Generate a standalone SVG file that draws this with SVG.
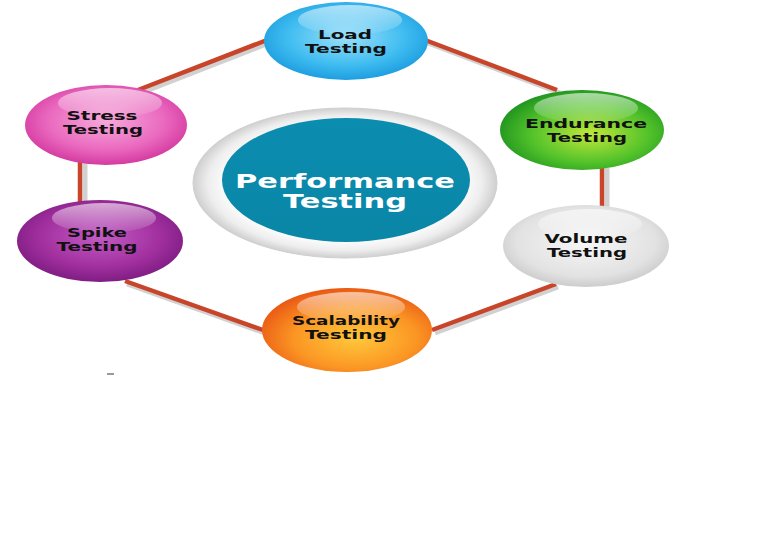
<svg xmlns="http://www.w3.org/2000/svg" width="768" height="550" viewBox="0 0 768 550">
<style>
.lbl{font-family:"DejaVu Sans","Liberation Sans",sans-serif;font-weight:bold;font-size:12px;fill:#111;text-anchor:middle}
.ttl{font-family:"DejaVu Sans","Liberation Sans",sans-serif;font-weight:bold;font-size:19px;fill:#fff;text-anchor:middle}
.conn{stroke:#c8452a;stroke-width:4.5;fill:none}
.shd{stroke:#9a9a9a;stroke-opacity:0.45;stroke-width:5;fill:none}
.hl{fill:url(#hl)}
</style>
<defs>
<linearGradient id="hl" x1="0" y1="0" x2="0" y2="1">
<stop offset="0" stop-color="#fff" stop-opacity="0.6"/>
<stop offset="1" stop-color="#fff" stop-opacity="0.05"/>
</linearGradient>
<radialGradient id="gBlue" cx="0.5" cy="0.45" r="0.6">
<stop offset="0" stop-color="#9be0fb"/><stop offset="0.6" stop-color="#3fbcf0"/><stop offset="1" stop-color="#1496dc"/>
</radialGradient>
<radialGradient id="gGreen" cx="0.55" cy="0.55" r="0.6">
<stop offset="0" stop-color="#c2e83a"/><stop offset="0.6" stop-color="#52c22a"/><stop offset="1" stop-color="#1a8f1e"/>
</radialGradient>
<radialGradient id="gGrey" cx="0.5" cy="0.45" r="0.6">
<stop offset="0" stop-color="#f7f7f7"/><stop offset="0.7" stop-color="#e2e2e2"/><stop offset="1" stop-color="#c4c4c4"/>
</radialGradient>
<radialGradient id="gPink" cx="0.5" cy="0.45" r="0.6">
<stop offset="0" stop-color="#f6a9da"/><stop offset="0.6" stop-color="#ea69bf"/><stop offset="1" stop-color="#cf2e98"/>
</radialGradient>
<radialGradient id="gPurple" cx="0.5" cy="0.45" r="0.6">
<stop offset="0" stop-color="#c25bc4"/><stop offset="0.6" stop-color="#a2309f"/><stop offset="1" stop-color="#76187c"/>
</radialGradient>
<radialGradient id="gOrange" cx="0.55" cy="0.6" r="0.6">
<stop offset="0" stop-color="#ffc83a"/><stop offset="0.6" stop-color="#fb9624"/><stop offset="1" stop-color="#ea5a14"/>
</radialGradient>
<radialGradient id="gRing" cx="0.5" cy="0.5" r="0.5">
<stop offset="0.75" stop-color="#ffffff"/><stop offset="0.9" stop-color="#eeeeee"/><stop offset="1" stop-color="#cfcfcf"/>
</radialGradient>
<linearGradient id="gTeal" x1="0" y1="0" x2="0" y2="1">
<stop offset="0" stop-color="#0b8db0"/><stop offset="1" stop-color="#0a86a6"/>
</linearGradient>
</defs>
<rect width="768" height="550" fill="#fff"/>
<g id="connectors">
<line class="shd" x1="141" y1="93" x2="269" y2="43"/>
<line class="conn" x1="138" y1="90" x2="267" y2="40"/>
<line class="shd" x1="428" y1="43" x2="560" y2="93"/>
<line class="conn" x1="425" y1="40" x2="557" y2="90"/>
<line class="shd" x1="85" y1="163" x2="85" y2="203"/>
<line class="conn" x1="80" y1="162" x2="80" y2="203"/>
<line class="shd" x1="607" y1="168" x2="607" y2="208"/>
<line class="conn" x1="602" y1="167" x2="602" y2="207"/>
<line class="shd" x1="558" y1="287" x2="435" y2="333"/>
<line class="conn" x1="556" y1="284" x2="432" y2="330"/>
<line class="shd" x1="127" y1="284" x2="265" y2="333"/>
<line class="conn" x1="125" y1="281" x2="263" y2="330"/>
</g>
<g id="center">
<ellipse cx="345" cy="183" rx="152" ry="75" fill="url(#gRing)" stroke="#d0d0d0" stroke-width="1"/>
<ellipse cx="346" cy="180" rx="124" ry="62" fill="url(#gTeal)"/>
<text class="ttl" x="345" y="188" textLength="220" lengthAdjust="spacingAndGlyphs">Performance</text>
<text class="ttl" x="345" y="208" textLength="124" lengthAdjust="spacingAndGlyphs">Testing</text>
</g>
<g id="load">
<ellipse cx="346" cy="41" rx="82" ry="39" fill="url(#gBlue)"/>
<ellipse cx="350" cy="20" rx="52" ry="15" class="hl"/>
<text class="lbl" x="345" y="39" textLength="54" lengthAdjust="spacingAndGlyphs">Load</text>
<text class="lbl" x="346" y="53" textLength="82" lengthAdjust="spacingAndGlyphs">Testing</text>
</g>
<g id="endurance">
<ellipse cx="582" cy="130" rx="82" ry="40" fill="url(#gGreen)"/>
<ellipse cx="586" cy="108" rx="52" ry="15" class="hl"/>
<text class="lbl" x="586" y="128" textLength="122" lengthAdjust="spacingAndGlyphs">Endurance</text>
<text class="lbl" x="587" y="142" textLength="80" lengthAdjust="spacingAndGlyphs">Testing</text>
</g>
<g id="volume">
<ellipse cx="586" cy="246" rx="83" ry="41" fill="url(#gGrey)"/>
<ellipse cx="590" cy="224" rx="52" ry="15" class="hl"/>
<text class="lbl" x="586" y="243" textLength="83" lengthAdjust="spacingAndGlyphs">Volume</text>
<text class="lbl" x="587" y="257" textLength="80" lengthAdjust="spacingAndGlyphs">Testing</text>
</g>
<g id="stress">
<ellipse cx="106" cy="125" rx="81" ry="40" fill="url(#gPink)"/>
<ellipse cx="110" cy="103" rx="52" ry="15" class="hl"/>
<text class="lbl" x="102" y="120" textLength="71" lengthAdjust="spacingAndGlyphs">Stress</text>
<text class="lbl" x="103" y="134" textLength="80" lengthAdjust="spacingAndGlyphs">Testing</text>
</g>
<g id="spike">
<ellipse cx="100" cy="241" rx="83" ry="41" fill="url(#gPurple)"/>
<ellipse cx="104" cy="218" rx="52" ry="15" class="hl"/>
<text class="lbl" x="97" y="237" textLength="60" lengthAdjust="spacingAndGlyphs">Spike</text>
<text class="lbl" x="97" y="251" textLength="81" lengthAdjust="spacingAndGlyphs">Testing</text>
</g>
<g id="scalability">
<ellipse cx="347" cy="330" rx="85" ry="42" fill="url(#gOrange)"/>
<ellipse cx="351" cy="307" rx="54" ry="15" class="hl"/>
<text class="lbl" x="346" y="325" textLength="108" lengthAdjust="spacingAndGlyphs">Scalability</text>
<text class="lbl" x="346" y="339" textLength="82" lengthAdjust="spacingAndGlyphs">Testing</text>
</g>
<line x1="107" y1="374" x2="114" y2="374" stroke="#555" stroke-width="1.2"/>
</svg>
